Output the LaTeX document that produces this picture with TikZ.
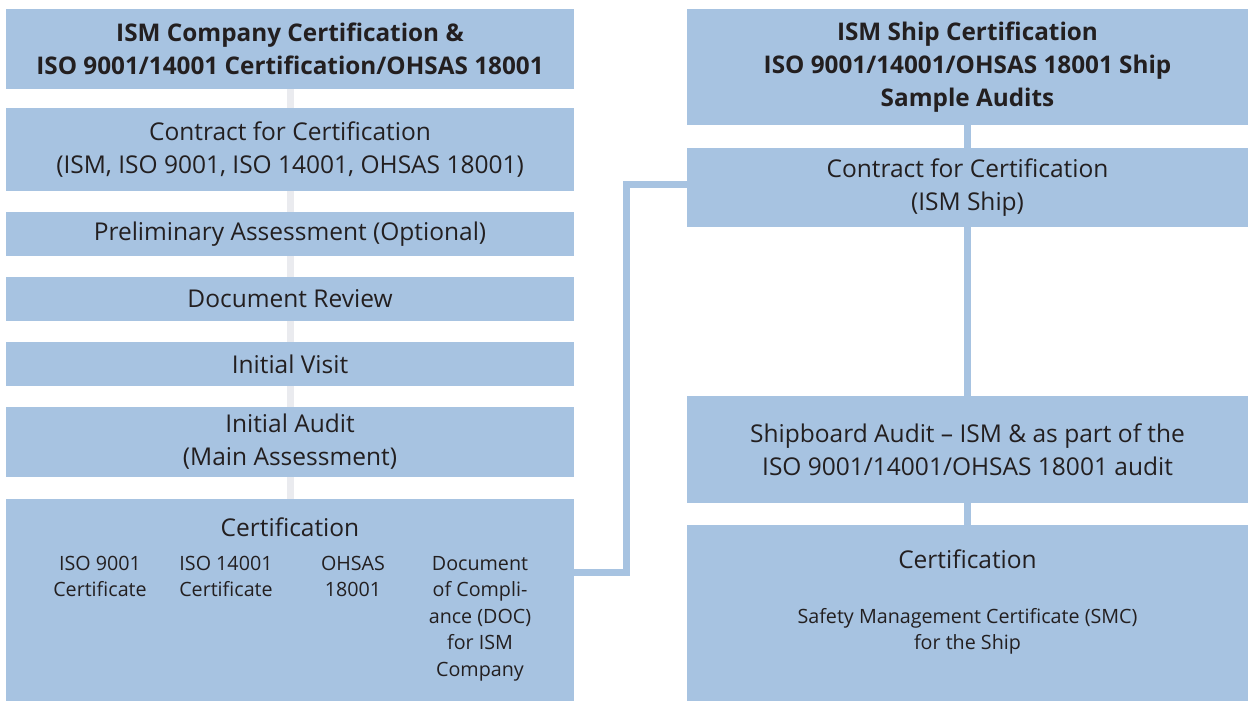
\documentclass[tikz,border=0pt]{standalone}
\usepackage{fontspec}
\setmainfont{Open Sans}
\usepackage{tikz}
\usetikzlibrary{backgrounds}
\definecolor{boxblue}{RGB}{167,195,225}
\definecolor{spine}{RGB}{234,235,239}
\definecolor{ink}{RGB}{35,31,32}
\tikzset{
  stage/.style={fill=boxblue, text=ink, minimum width=568pt, inner sep=0pt, align=center,
    font=\fontsize{24.5}{33}\selectfont},
  shipstage/.style={stage, minimum width=561pt},
  headline/.style={font=\fontsize{24.3}{33}\selectfont\bfseries},
  subitem/.style={text=ink, inner sep=0pt, align=center, anchor=north, font=\fontsize{19.7}{26.5}\selectfont},
  link/.style={draw=boxblue, line width=7pt},
  spineline/.style={draw=spine, line width=7pt}
}

\begin{document}
\begin{tikzpicture}[x=1pt,y=-1pt]
\useasboundingbox (0,0) rectangle (1251,703);
% company side
\node[stage, headline, minimum height=80pt] (company) at (290,49) {ISM Company Certification \&\\ISO 9001/14001 Certification/OHSAS 18001};
\node[stage, minimum height=83pt] (contract) at (290,149.5) {Contract for Certification\\(ISM, ISO 9001, ISO 14001, OHSAS 18001)};
\node[stage, minimum height=44pt] (prelim) at (290,234) {Preliminary Assessment (Optional)};
\node[stage, minimum height=44pt] (docreview) at (290,299) {Document Review};
\node[stage, minimum height=44pt] (visit) at (290,364) {Initial Visit};
\node[stage, minimum height=70pt] (audit) at (290,442) {Initial Audit\\(Main Assessment)};
\node[stage, minimum height=202pt] (cert) at (290,600) {};
\node[text=ink, font=\fontsize{24.5}{33}\selectfont] (certtitle) at (290,527) {Certification};
\node[subitem] (isoq) at (100,556) {ISO 9001\\Certificate};
\node[subitem] (isoe) at (226,556) {ISO 14001\\Certificate};
\node[subitem] (ohsas) at (353,556) {OHSAS\\18001};
\node[subitem] (doc) at (480,556) {Document\\of Compli-\\ance (DOC)\\for ISM\\Company};
% ship side
\node[shipstage, headline, minimum height=116pt] (ship) at (967.5,67) {ISM Ship Certification\\ISO 9001/14001/OHSAS 18001 Ship\\Sample Audits};
\node[shipstage, minimum height=79pt] (shipcontract) at (967.5,187.5) {Contract for Certification\\(ISM Ship)};
\node[shipstage, minimum height=107pt] (shipaudit) at (967.5,449.5) {Shipboard Audit -- ISM \& as part of the\\ISO 9001/14001/OHSAS 18001 audit};
\node[shipstage, minimum height=176pt] (shipcert) at (967.5,613) {};
\node[text=ink, font=\fontsize{24.5}{33}\selectfont] (shipcerttitle) at (967.5,559) {Certification};
\node[subitem] (smc) at (967.5,608) {Safety Management Certificate (SMC)\\for the Ship};
% connectors
\coordinate (docout) at ([yshift=28pt]cert.east);
\coordinate (bend) at (626,185);
\coordinate (shipin) at ([yshift=2.5pt]shipcontract.west);
\begin{pgfonlayer}{background}
\draw[spineline] (company) -- (cert);
\draw[link] (ship) -- (shipcert);
\draw[link] (docout) -| (bend) -- (shipin);
\end{pgfonlayer}
\end{tikzpicture}
\end{document}
